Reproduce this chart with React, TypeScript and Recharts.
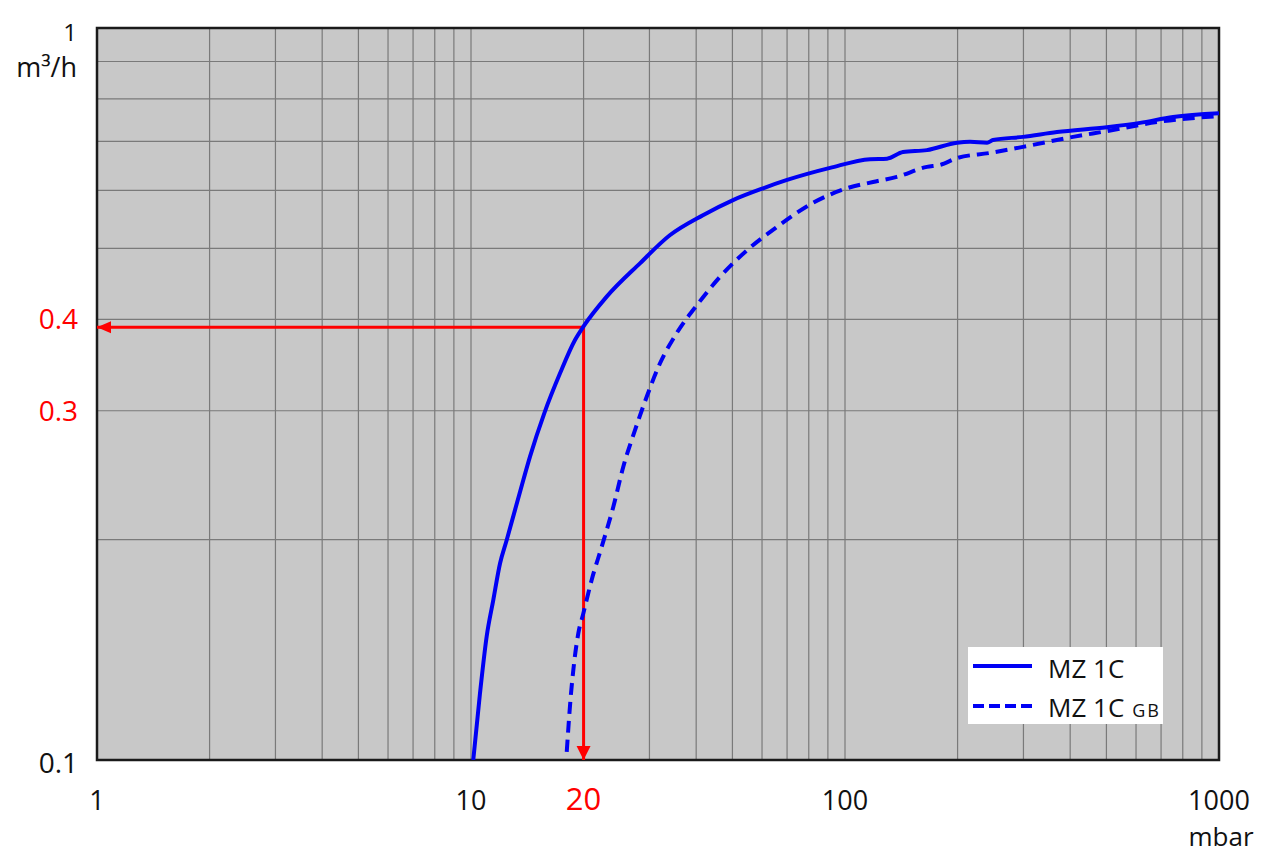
import React from "react";
import {
  LineChart,
  Line,
  XAxis,
  YAxis,
  CartesianGrid,
  ReferenceArea,
  Legend,
} from "recharts";

// ---------- data ----------
const xTicks = [1, 10, 20, 100, 1000];
const yTicks = [0.1, 0.3, 0.4, 1];
const redTickLabels = [0.3, 0.4, 20];

const gridX = [2, 3, 4, 5, 6, 7, 8, 9, 10, 20, 30, 40, 50, 60, 70, 80, 90, 100, 200, 300, 400, 500, 600, 700, 800, 900];
const gridY = [0.2, 0.3, 0.4, 0.5, 0.6, 0.7, 0.8, 0.9];

const mz1cX = [10.14, 10.57, 11.01, 11.47, 11.96, 12.46, 13.8, 14.38, 15.7, 17.3, 18.97, 19.97, 23.06, 28.3, 34.0, 41.7, 50.2, 60.4, 70.0, 91.2, 116.7, 129.5, 142.9, 165.6, 199.3, 215.9, 239.8, 248.8, 299.2, 368.8, 501.5, 614.9, 753.6, 1000];
const mz1cY = [0.1, 0.1234, 0.1474, 0.1654, 0.1857, 0.1998, 0.2413, 0.2597, 0.2976, 0.3375, 0.3748, 0.3908, 0.4295, 0.477, 0.521, 0.555, 0.582, 0.604, 0.62, 0.644, 0.662, 0.663, 0.677, 0.681, 0.697, 0.699, 0.697, 0.703, 0.71, 0.721, 0.732, 0.742, 0.756, 0.765];

const mz1cGbX = [18.03, 18.48, 18.86, 19.36, 19.97, 21.02, 22.36, 24.02, 25.54, 27.45, 29.5, 32.02, 35.48, 40.53, 46.3, 54.7, 65.8, 82.1, 101.2, 118.8, 137.6, 165.6, 179.5, 199, 244, 299, 407, 501, 682.7, 1000];
const mz1cGbY = [0.1026, 0.1221, 0.1355, 0.1489, 0.1586, 0.1762, 0.1956, 0.2218, 0.2516, 0.2823, 0.3135, 0.3483, 0.383, 0.4206, 0.457, 0.497, 0.535, 0.577, 0.604, 0.616, 0.626, 0.646, 0.65, 0.664, 0.675, 0.688, 0.71, 0.723, 0.744, 0.758];

const xMin = 1;
const xMax = 1000;
const yMin = 0.1;
const yMax = 1;
const redX = 20;
const redY = 0.39;

const seriesNames = ["MZ 1C", "MZ 1C"];
const seriesSuffix = ["", "GB"];
const yUnit = "m³/h";
const xUnit = "mbar";

// ---------- derived tables ----------
const mz1c = mz1cX.map((x, i) => ({ x, y: mz1cY[i] }));
const mz1cGb = mz1cGbX.map((x, i) => ({ x, y: mz1cGbY[i] }));
const redPath = [
  { x: xMin, y: redY },
  { x: redX, y: redY },
  { x: redX, y: yMin },
];

// ---------- styles ----------
const FONT = "'Open Sans', 'DejaVu Sans', sans-serif";
const BLUE = "#0000f5";
const RED = "#ff0000";
const TEXT = "#111";

const XTick = (props: any) => {
  const { x, y, payload } = props;
  const v = payload.value;
  const isRed = redTickLabels.includes(v);
  return (
    <g>
      <text
        x={x}
        y={y + 50}
        textAnchor="middle"
        fill={isRed ? RED : TEXT}
        fontSize={isRed ? 31 : 27}
        fontFamily={FONT}
      >
        {String(v)}
      </text>
      {v === xMax && (
        <text x={x + 2} y={y + 86} textAnchor="middle" fill={TEXT} fontSize={26} fontFamily={FONT}>
          {xUnit}
        </text>
      )}
    </g>
  );
};

const YTick = (props: any) => {
  const { x, y, payload } = props;
  const v = payload.value;
  const isRed = redTickLabels.includes(v);
  if (v === yMax) {
    return (
      <g>
        <text x={x - 20} y={y + 13} textAnchor="end" fill={TEXT} fontSize={24} fontFamily={FONT}>
          {String(v)}
        </text>
        <text x={x - 20} y={y + 49} textAnchor="end" fill={TEXT} fontSize={27} fontFamily={FONT}>
          {yUnit}
        </text>
      </g>
    );
  }
  return (
    <text
      x={x - 19}
      y={y + (v === yMin ? 13 : 10)}
      textAnchor="end"
      fill={isRed ? RED : TEXT}
      fontSize={28}
      fontFamily={FONT}
    >
      {String(v)}
    </text>
  );
};

const ArrowDot = (props: any) => {
  const { cx, cy, index } = props;
  if (index === 0) {
    return <path key="arrow-left" d={`M${cx},${cy} L${cx + 14},${cy - 6} L${cx + 14},${cy + 6} Z`} fill={RED} />;
  }
  if (index === redPath.length - 1) {
    return <path key="arrow-down" d={`M${cx},${cy} L${cx - 7},${cy - 14} L${cx + 7},${cy - 14} Z`} fill={RED} />;
  }
  return <g key={`arrow-${index}`} />;
};

const LegendBox = () => (
  <svg width={195} height={77} style={{ display: "block" }}>
    <rect x={0} y={0} width={195} height={77} fill="#fff" />
    <line x1={5} x2={64} y1={19} y2={19} stroke={BLUE} strokeWidth={4} />
    <line x1={5} x2={64} y1={59} y2={59} stroke={BLUE} strokeWidth={4} strokeDasharray="11 5" />
    <text x={80} y={31} fontSize={26} fontFamily={FONT} fill={TEXT}>
      {seriesNames[0]}
      {seriesSuffix[0]}
    </text>
    <text x={80} y={70} fontSize={26} fontFamily={FONT} fill={TEXT}>
      {seriesNames[1]}
      <tspan dx={8} fontSize={18} letterSpacing={2}>
        {seriesSuffix[1]}
      </tspan>
    </text>
  </svg>
);

export default function App() {
  return (
    <div style={{ position: "absolute", left: 0, top: 0, width: 1269, height: 858, background: "#fff" }}>
      <LineChart width={1269} height={858} margin={{ top: 28, right: 50, bottom: 0, left: 0 }}>
        <CartesianGrid
          fill="#c8c8c8"
          stroke="#7a7a7a"
          strokeWidth={1.2}
          horizontalValues={gridY}
          verticalValues={gridX}
        />
        <XAxis
          dataKey="x"
          type="number"
          scale="log"
          domain={[xMin, xMax]}
          ticks={xTicks}
          interval={0}
          allowDataOverflow
          axisLine={false}
          tickLine={false}
          tickSize={0}
          tickMargin={0}
          height={98}
          tick={<XTick />}
        />
        <YAxis
          dataKey="y"
          type="number"
          scale="log"
          domain={[yMin, yMax]}
          ticks={yTicks}
          interval={0}
          allowDataOverflow
          axisLine={false}
          tickLine={false}
          tickSize={0}
          tickMargin={0}
          width={97}
          tick={<YTick />}
        />
        <Line
          data={redPath}
          dataKey="y"
          type="linear"
          stroke={RED}
          strokeWidth={3}
          dot={ArrowDot}
          activeDot={false}
          isAnimationActive={false}
          legendType="none"
        />
        <Line
          data={mz1c}
          dataKey="y"
          name="MZ 1C"
          type="monotone"
          stroke={BLUE}
          strokeWidth={4}
          dot={false}
          activeDot={false}
          isAnimationActive={false}
        />
        <Line
          data={mz1cGb}
          dataKey="y"
          name="MZ 1C GB"
          type="monotone"
          stroke={BLUE}
          strokeWidth={4}
          strokeDasharray="12 7"
          dot={false}
          activeDot={false}
          isAnimationActive={false}
        />
        <ReferenceArea
          x1={xMin}
          x2={xMax}
          y1={yMin}
          y2={yMax}
          fill="none"
          fillOpacity={0}
          stroke="#1a1a1a"
          strokeWidth={2.5}
          ifOverflow="visible"
        />
        <Legend
          layout="horizontal"
          align="center"
          verticalAlign="middle"
          content={<LegendBox />}
          wrapperStyle={{ left: 968, top: 647, width: 195, height: 77 }}
        />
      </LineChart>
    </div>
  );
}
